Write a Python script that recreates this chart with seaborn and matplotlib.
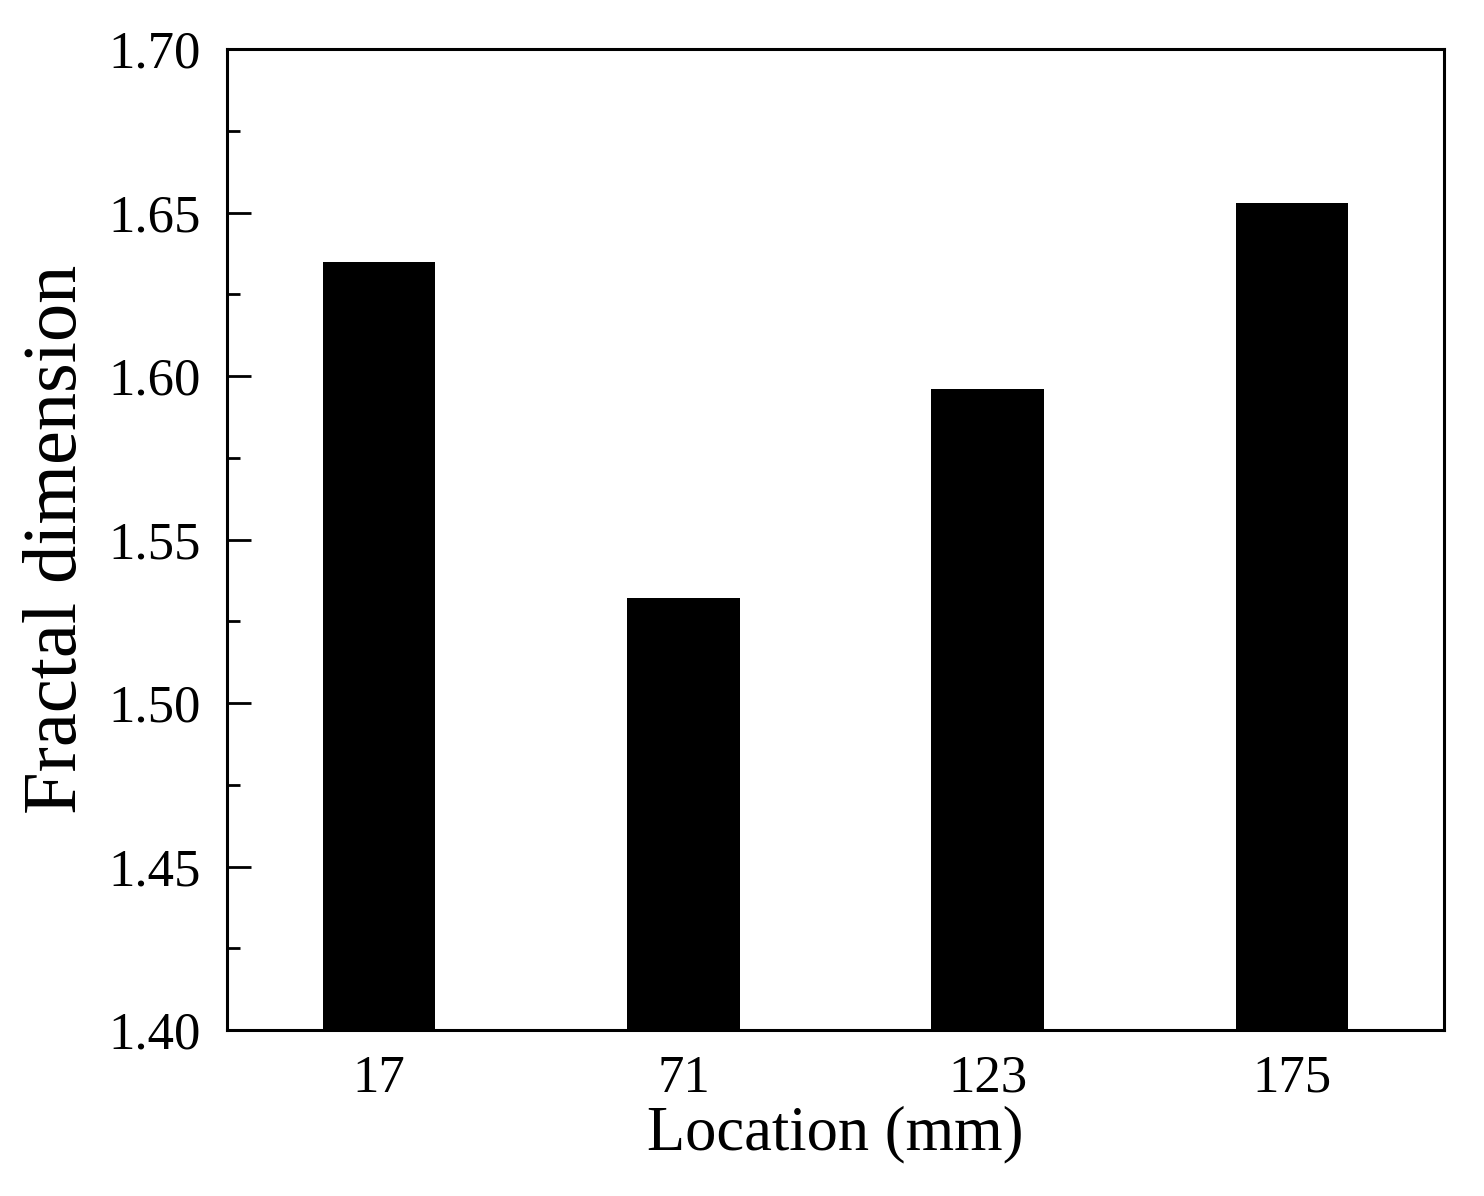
import numpy as np
import pandas as pd
import matplotlib
matplotlib.use("Agg")
import matplotlib.pyplot as plt
import seaborn as sns
from matplotlib.ticker import MultipleLocator

# data
locations = ["17", "71", "123", "175"]
fractal_dim = [1.635, 1.532, 1.596, 1.653]

df = pd.DataFrame({"Location": locations, "Fractal": fractal_dim})

sns.set_style("ticks")
plt.rcParams["font.family"] = ["Liberation Serif", "DejaVu Serif"]
plt.rcParams["text.color"] = "black"
plt.rcParams["axes.labelcolor"] = "black"
plt.rcParams["xtick.color"] = "black"
plt.rcParams["ytick.color"] = "black"

fig = plt.figure(figsize=(14.84, 11.96), dpi=100)
ax = fig.add_axes([0.153, 0.1388, 0.82, 0.8202])

sns.barplot(data=df, x="Location", y="Fractal", order=locations,
            color="black", saturation=1, width=0.37, ax=ax, edgecolor="none")

ax.set_ylim(1.40, 1.70)
ax.set_xlim(-0.5, 3.5)
ax.yaxis.set_major_locator(MultipleLocator(0.05))
ax.yaxis.set_minor_locator(MultipleLocator(0.025))
ax.set_yticklabels([f"{v:.2f}" for v in ax.get_yticks()])

for s in ax.spines.values():
    s.set_visible(True)
    s.set_linewidth(2.2)
    s.set_color("black")

ax.tick_params(axis="y", which="major", direction="in", length=17, width=2,
               labelsize=38, pad=19)
ax.tick_params(axis="y", which="minor", direction="in", length=9, width=2)
ax.tick_params(axis="x", which="both", length=0, labelsize=38, pad=18)

ax.set_xlabel("Location (mm)", fontsize=45, labelpad=2)
ax.set_ylabel("Fractal dimension", fontsize=55, labelpad=12)

fig.savefig("out.png", dpi=100)
